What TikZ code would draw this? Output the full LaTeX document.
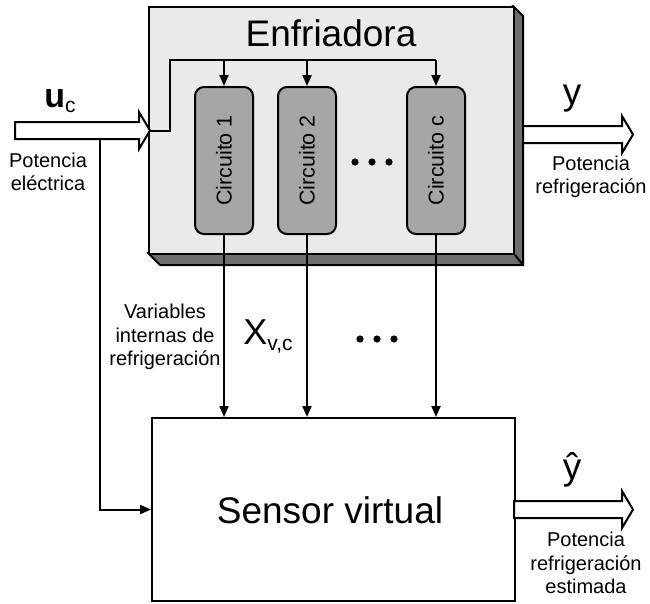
\documentclass[tikz,border=0pt]{standalone}
\usepackage{fontspec}
\setmainfont{Liberation Sans}
\usetikzlibrary{arrows.meta}
\definecolor{facegray}{HTML}{EAEAEA}
\definecolor{sidegray}{HTML}{6E6E6E}
\definecolor{circgray}{HTML}{A6A6A6}
\newcommand{\hollowarrow}[3]{%
  \draw[blockarr] (#1,#3-8.5) -- (#2-11,#3-8.5) -- (#2-11,#3-18.5) -- (#2,#3)
    -- (#2-11,#3+18.5) -- (#2-11,#3+8.5) -- (#1,#3+8.5) -- cycle;}
\begin{document}
\begin{tikzpicture}[x=1pt,y=-1pt,
  line width=2pt,
  arr/.style={-{Triangle[length=11pt,width=9pt]}},
  blockarr/.style={draw, fill=white, line width=2pt, line join=miter},
  circ/.style={draw, fill=circgray, rounded corners=9pt, minimum width=58pt, minimum height=147pt, inner sep=0pt},
  lbl/.style={font=\fontsize{20}{23.5}\selectfont, align=center, inner sep=0pt},
  big/.style={font=\fontsize{37}{37}\selectfont, inner sep=0pt},
  circtext/.style={font=\fontsize{21.5}{21.5}\selectfont, rotate=90, inner sep=0pt},
]
\useasboundingbox (0,0) rectangle (650,603);

% Enfriadora 3D box
\draw[fill=sidegray, line join=miter] (513,6) -- (523,16) -- (523,265) -- (160,265) -- (148,253) -- cycle;
\node[draw, fill=facegray, minimum width=365pt, minimum height=247pt, inner sep=0pt, anchor=north west] (enf) at (148,6) {};
\draw (enf.south east) -- (523,265);
\node[big] (title) at (331,33) {Enfriadora};

% circuits
\node[circ] (c1) at (224,160.5) {};
\node[circ] (c2) at (307,160.5) {};
\node[circ] (cc) at (436,160.5) {};
\node[circtext] (t1) at (c1.center) {Circuito 1};
\node[circtext] (t2) at (c2.center) {Circuito 2};
\node[circtext] (tc) at (cc.center) {Circuito c};
\fill (355,162) circle (3.6) (372,162) circle (3.6) (389,162) circle (3.6);

% sensor box
\node[draw, fill=white, minimum width=363pt, minimum height=183pt, inner sep=0pt, anchor=north west] (sensor) at (151,417) {};
\node[big] (stext) at (330,510) {Sensor virtual};

% block arrows
\hollowarrow{15}{150}{130.5}
\hollowarrow{523}{633}{134.5}
\hollowarrow{514}{633}{509.5}
\coordinate (tipin) at (150,130.5);
\coordinate (fb) at (100,139);
\coordinate (bus) at (170,60);
\coordinate (busend) at (436,60);

% distribution
\draw (tipin) -| (bus) -- (busend);
\draw[arr] (c1.north |- bus) -- (c1.north);
\draw[arr] (c2.north |- bus) -- (c2.north);
\draw[arr] (busend) -- (cc.north);

% circuits to sensor
\draw[arr] (c1.south) -- (c1.south |- sensor.north);
\draw[arr] (c2.south) -- (c2.south |- sensor.north);
\draw[arr] (cc.south) -- (cc.south |- sensor.north);

% feedback
\draw[arr] (fb) |- (sensor.west);

% labels
\node[inner sep=0pt] (uc) at (60,101) {{\fontsize{34}{34}\selectfont\bfseries u}{\fontsize{21}{21}\selectfont\raisebox{-5pt}{c}}};
\node[lbl] (pe) at (48,172) {Potencia\\eléctrica};
\node[big] (ylab) at (572,99) {y};
\node[lbl] (pr) at (591,177) {Potencia\\refrigeración};
\node[lbl] (vi) at (165,337) {Variables\\internas de\\refrigeración};
\node[inner sep=0pt] (xvc) at (268,336) {{\fontsize{36}{36}\selectfont X}{\fontsize{21}{21}\selectfont\raisebox{-6pt}{v,c}}};
\fill (360,339) circle (3.6) (377,339) circle (3.6) (394,339) circle (3.6);
\node[big] (yhat) at (572,470) {ŷ};
\node[lbl] (pre) at (586,563) {Potencia\\refrigeración\\estimada};
\end{tikzpicture}
\end{document}
